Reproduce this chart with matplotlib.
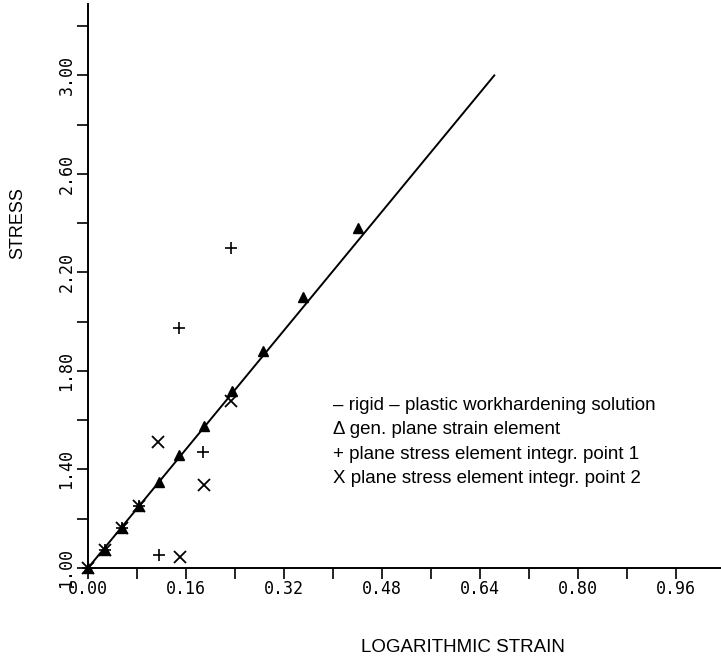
import matplotlib.pyplot as plt
import numpy as np

# rigid-plastic workhardening solution (straight line)
line_strain = [0.0, 0.663]
line_stress = [1.0, 3.0]

# gen. plane strain element (triangles)
tri_strain = [0.0, 0.028, 0.055, 0.083, 0.116, 0.149, 0.189, 0.235, 0.286, 0.351, 0.441]
tri_stress = [1.0, 1.073, 1.163, 1.253, 1.351, 1.457, 1.576, 1.718, 1.880, 2.100, 2.380]

# plane stress element integr. point 1 (+)
p1_strain = [0.0, 0.028, 0.055, 0.083, 0.116, 0.149, 0.188, 0.233]
p1_stress = [1.0, 1.073, 1.163, 1.253, 1.053, 1.976, 1.473, 2.300]

# plane stress element integr. point 2 (x)
p2_strain = [0.0, 0.028, 0.055, 0.083, 0.114, 0.150, 0.189, 0.233]
p2_stress = [1.0, 1.073, 1.163, 1.253, 1.510, 1.045, 1.335, 1.678]

xticks = [0.00, 0.16, 0.32, 0.48, 0.64, 0.80, 0.96]
yticks = [1.00, 1.40, 1.80, 2.20, 2.60, 3.00]

legend_lines = ["\u2013 rigid \u2013 plastic workhardening solution",
                "\u0394 gen. plane strain element",
                "+ plane stress element integr. point 1",
                "X plane stress element integr. point 2"]

fig = plt.figure(figsize=(7.21, 6.61), dpi=100)
ax = fig.add_axes([88/721, 93/661, 633/721, 564/661])

ax.plot(line_strain, line_stress, color='black', lw=1.4)
ax.plot(tri_strain, tri_stress, '^', color='black', ms=7, ls='none', clip_on=False)
ax.plot(p1_strain, p1_stress, '+', color='black', ms=8, mew=1.2, ls='none', clip_on=False)
ax.plot(p2_strain, p2_stress, 'x', color='black', ms=8, mew=1.3, ls='none', clip_on=False)

ax.set_xlim(0, 1.033)
ax.set_ylim(1.0, 3.29)
for s in ['top', 'right']:
    ax.spines[s].set_visible(False)
for s in ['left', 'bottom']:
    ax.spines[s].set_linewidth(1.4)
    ax.spines[s].set_zorder(0.5)

ax.set_xticks(xticks)
ax.set_xticklabels(['%.2f' % v for v in xticks], family='DejaVu Sans Mono', fontsize=12)
ax.set_xticks(np.arange(0.08, 1.0, 0.16), minor=True)
ax.set_yticks(yticks)
ax.set_yticklabels(['%.2f' % v for v in yticks], family='DejaVu Sans Mono', fontsize=12,
                   rotation=90, va='center')
ax.set_yticks(np.arange(1.2, 3.3, 0.4), minor=True)
ax.tick_params(which='both', direction='out', length=8, width=1.2)
ax.tick_params(axis='x', pad=1)
ax.tick_params(axis='y', pad=1)

fig.text(18/721, 1 - 223/661, 'STRESS', rotation=90, ha='center', va='center',
         family='Liberation Sans', fontsize=13)
fig.text(463/721, 1 - 648/661, 'LOGARITHMIC STRAIN', ha='center', va='center',
         family='Liberation Sans', fontsize=13.5)

for i, t in enumerate(legend_lines):
    fig.text(333/721, 1 - (405 + i * 24.6)/661, t, ha='left', va='center',
             family='Liberation Sans', fontsize=13.5)

plt.savefig('out.png', dpi=100)
